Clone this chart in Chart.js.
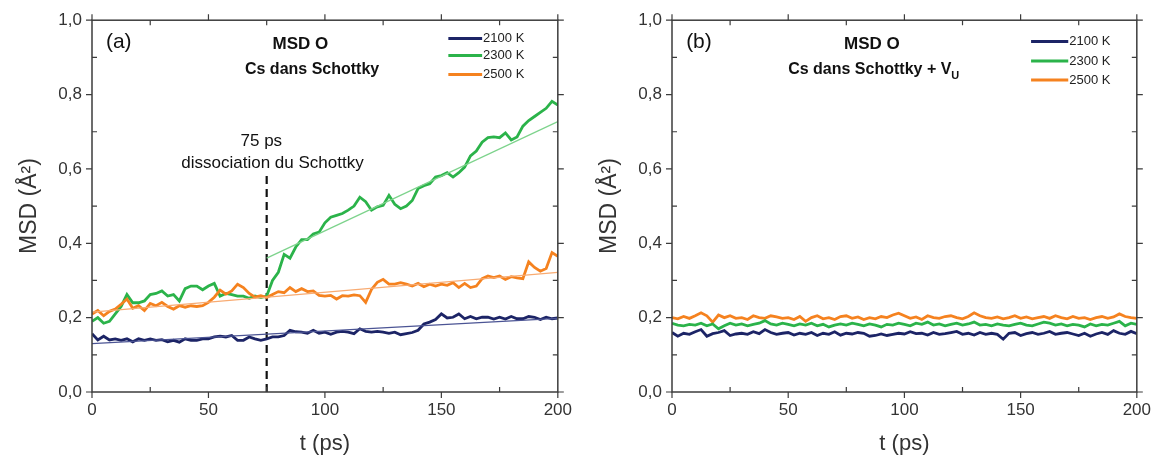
<!DOCTYPE html>
<html>
<head>
<meta charset="utf-8">
<script src="https://cdn.jsdelivr.net/npm/chart.js@4.4.0/dist/chart.umd.min.js"></script>
<style>
  html, body { margin: 0; padding: 0; background: #fff; }
  #wrap { display: flex; width: 1159px; height: 461px; }
  canvas { display: block; }
</style>
</head>
<body>
<div id="wrap">
  <canvas id="chartA" width="580" height="461"></canvas>
  <canvas id="chartB" width="579" height="461"></canvas>
</div>
<script>
// time axis (ps)
const times = [0,2.5,5,7.5,10,12.5,15,17.5,20,22.5,25,27.5,30,32.5,35,37.5,40,42.5,45,47.5,
  50,52.5,55,57.5,60,62.5,65,67.5,70,72.5,75,77.5,80,82.5,85,87.5,90,92.5,95,97.5,
  100,102.5,105,107.5,110,112.5,115,117.5,120,122.5,125,127.5,130,132.5,135,137.5,140,142.5,145,147.5,
  150,152.5,155,157.5,160,162.5,165,167.5,170,172.5,175,177.5,180,182.5,185,187.5,190,192.5,195,197.5,200];

// (a) Cs dans Schottky
const msdA2100 = [0.157,0.14,0.15,0.14,0.143,0.139,0.143,0.135,0.143,0.139,0.143,0.139,0.141,0.135,0.139,0.134,0.143,0.139,0.139,0.143,
  0.143,0.148,0.15,0.148,0.152,0.139,0.139,0.148,0.143,0.139,0.143,0.148,0.148,0.152,0.166,0.162,0.161,0.158,0.166,0.158,
  0.161,0.155,0.161,0.163,0.161,0.157,0.17,0.163,0.161,0.163,0.161,0.158,0.161,0.154,0.157,0.16,0.166,0.183,0.188,0.195,
  0.21,0.199,0.201,0.21,0.197,0.203,0.197,0.201,0.201,0.196,0.201,0.196,0.203,0.197,0.197,0.203,0.201,0.195,0.201,0.197,0.199];
const msdA2300 = [0.19,0.2,0.185,0.19,0.21,0.23,0.262,0.24,0.24,0.245,0.262,0.265,0.272,0.258,0.262,0.245,0.278,0.285,0.285,0.275,
  0.285,0.292,0.258,0.265,0.262,0.258,0.258,0.252,0.258,0.254,0.258,0.3,0.322,0.37,0.36,0.39,0.41,0.41,0.425,0.43,
  0.455,0.47,0.475,0.48,0.489,0.5,0.524,0.512,0.489,0.498,0.502,0.529,0.505,0.493,0.5,0.515,0.547,0.555,0.56,0.578,
  0.582,0.59,0.578,0.59,0.605,0.635,0.648,0.672,0.684,0.686,0.684,0.697,0.678,0.686,0.715,0.73,0.741,0.752,0.763,0.782,0.772];
const msdA2500 = [0.21,0.219,0.205,0.217,0.223,0.236,0.25,0.225,0.232,0.219,0.238,0.232,0.241,0.23,0.223,0.232,0.228,0.232,0.23,0.232,
  0.241,0.255,0.274,0.263,0.272,0.29,0.281,0.265,0.255,0.259,0.254,0.262,0.27,0.267,0.281,0.27,0.278,0.27,0.272,0.26,
  0.258,0.26,0.25,0.259,0.258,0.261,0.259,0.241,0.276,0.295,0.303,0.29,0.29,0.294,0.29,0.285,0.292,0.283,0.29,0.285,
  0.29,0.287,0.294,0.281,0.292,0.281,0.285,0.305,0.312,0.308,0.312,0.303,0.31,0.307,0.305,0.35,0.335,0.325,0.332,0.375,0.365];

// linear fits of panel (a)
const fitTimes = [0, 200];
const fitA2100 = [0.13, 0.198];
const fitA2500 = [0.215, 0.322];
const fitTimes2300 = [75, 200];
const fitA2300 = [0.36, 0.727];
const dissocTimes = [75, 75];
const dissocMsd = [0, 0.59];

// (b) Cs dans Schottky + V_U
const msdB2100 = [0.16,0.15,0.158,0.155,0.162,0.168,0.15,0.157,0.16,0.165,0.152,0.156,0.158,0.155,0.162,0.157,0.168,0.16,0.155,0.158,
  0.16,0.153,0.158,0.155,0.16,0.152,0.158,0.155,0.162,0.153,0.158,0.156,0.16,0.158,0.15,0.152,0.156,0.152,0.155,0.158,
  0.156,0.162,0.157,0.158,0.153,0.16,0.155,0.157,0.16,0.163,0.155,0.158,0.153,0.16,0.155,0.158,0.155,0.142,0.158,0.16,
  0.152,0.157,0.16,0.155,0.158,0.163,0.155,0.158,0.16,0.156,0.152,0.158,0.15,0.156,0.16,0.155,0.165,0.158,0.155,0.163,0.157];
const msdB2300 = [0.185,0.18,0.178,0.182,0.18,0.185,0.178,0.183,0.17,0.178,0.185,0.18,0.183,0.178,0.182,0.185,0.192,0.183,0.18,0.185,
  0.182,0.178,0.183,0.18,0.185,0.178,0.182,0.175,0.18,0.183,0.18,0.185,0.182,0.178,0.183,0.18,0.175,0.182,0.18,0.185,
  0.182,0.178,0.185,0.182,0.188,0.18,0.183,0.178,0.182,0.185,0.18,0.183,0.188,0.18,0.182,0.178,0.183,0.18,0.178,0.182,
  0.185,0.18,0.178,0.183,0.188,0.185,0.18,0.183,0.178,0.182,0.18,0.175,0.183,0.178,0.182,0.18,0.185,0.19,0.178,0.185,0.182];
const msdB2500 = [0.2,0.197,0.203,0.198,0.205,0.213,0.205,0.188,0.207,0.2,0.205,0.198,0.2,0.195,0.205,0.2,0.198,0.205,0.202,0.198,
  0.2,0.195,0.203,0.19,0.2,0.205,0.197,0.2,0.195,0.203,0.205,0.198,0.202,0.195,0.2,0.197,0.203,0.2,0.207,0.212,
  0.205,0.198,0.202,0.195,0.205,0.2,0.198,0.203,0.205,0.2,0.197,0.203,0.213,0.205,0.2,0.198,0.202,0.197,0.2,0.205,
  0.198,0.202,0.197,0.2,0.203,0.198,0.205,0.2,0.197,0.203,0.198,0.2,0.195,0.2,0.203,0.198,0.202,0.21,0.203,0.2,0.198];

const seriesLabels = ['2100 K', '2300 K', '2500 K'];
const seriesColors = ['#1c2466', '#2bb34a', '#f5821f'];
const fitColors = ['#4b5494', '#7dd38c', '#f8ab72'];

const FONT = "'Liberation Sans', Arial, sans-serif";

function pts(xs, ys) {
  return xs.map((x, i) => ({ x: x, y: ys[i] }));
}

function lineSet(label, xs, ys, color, width, extra) {
  return Object.assign({
    label: label,
    data: pts(xs, ys),
    borderColor: color,
    backgroundColor: color,
    borderWidth: width,
    pointRadius: 0,
    tension: 0,
    fill: false
  }, extra || {});
}

// frame, ticks, legend and in-plot text
const decorPlugin = {
  id: 'decor',
  afterDatasetsDraw(chart, args, opts) {
    const { ctx, chartArea: a, scales: { x, y } } = chart;
    ctx.save();
    ctx.strokeStyle = '#3c3c3c';
    ctx.lineWidth = 1.5;
    ctx.strokeRect(a.left, a.top, a.right - a.left, a.bottom - a.top);

    ctx.lineWidth = 1.2;
    ctx.beginPath();
    for (let t = 0; t <= 200; t += 25) {
      const px = x.getPixelForValue(t);
      const major = t % 50 === 0;
      if (major) {
        ctx.moveTo(px, a.bottom); ctx.lineTo(px, a.bottom + 6);
        ctx.moveTo(px, a.top); ctx.lineTo(px, a.top - 6);
      } else {
        ctx.moveTo(px, a.bottom); ctx.lineTo(px, a.bottom - 5);
        ctx.moveTo(px, a.top); ctx.lineTo(px, a.top + 5);
      }
    }
    for (let k = 0; k <= 10; k++) {
      const py = y.getPixelForValue(k / 10);
      if (k % 2 === 0) {
        ctx.moveTo(a.left, py); ctx.lineTo(a.left - 6, py);
        ctx.moveTo(a.right, py); ctx.lineTo(a.right + 6, py);
      } else {
        ctx.moveTo(a.left, py); ctx.lineTo(a.left + 5, py);
        ctx.moveTo(a.right, py); ctx.lineTo(a.right - 5, py);
      }
    }
    ctx.stroke();

    // legend
    const lg = opts.legend;
    ctx.textBaseline = 'middle';
    ctx.textAlign = 'left';
    ctx.font = '13px ' + FONT;
    seriesLabels.forEach((lab, i) => {
      const py = y.getPixelForValue(lg.v[i]);
      ctx.strokeStyle = seriesColors[i];
      ctx.lineWidth = 3;
      ctx.beginPath();
      ctx.moveTo(x.getPixelForValue(lg.t0), py);
      ctx.lineTo(x.getPixelForValue(lg.t1), py);
      ctx.stroke();
      ctx.fillStyle = '#222';
      ctx.fillText(lab, x.getPixelForValue(lg.t1) + 1, py);
    });

    // texts
    opts.texts.forEach(tx => {
      ctx.font = tx.font + ' ' + FONT;
      ctx.fillStyle = '#111';
      ctx.textAlign = 'center';
      const cx = x.getPixelForValue(tx.t);
      const cy = y.getPixelForValue(tx.v);
      if (tx.sub) {
        const w1 = ctx.measureText(tx.text).width;
        ctx.font = tx.subFont + ' ' + FONT;
        const w2 = ctx.measureText(tx.sub).width;
        const start = cx - (w1 + w2) / 2;
        ctx.textAlign = 'left';
        ctx.font = tx.font + ' ' + FONT;
        ctx.fillText(tx.text, start, cy);
        ctx.font = tx.subFont + ' ' + FONT;
        ctx.fillText(tx.sub, start + w1, cy + 6);
      } else {
        ctx.fillText(tx.text, cx, cy);
      }
    });
    ctx.restore();
  }
};

function axisOptions() {
  return {
    x: {
      type: 'linear', min: 0, max: 200,
      grid: { display: false, drawTicks: false },
      border: { display: false },
      ticks: { stepSize: 50, color: '#333', font: { size: 17, family: FONT }, padding: 8 },
      title: { display: true, text: 't (ps)', color: '#333', font: { size: 22, family: FONT }, padding: { top: 2, bottom: 4 } },
      afterFit: s => { s.height = 69; }
    },
    y: {
      min: 0, max: 1,
      grid: { display: false, drawTicks: false },
      border: { display: false },
      ticks: { stepSize: 0.2, color: '#333', font: { size: 17, family: FONT }, padding: 10,
        callback: v => v.toFixed(1).replace('.', ',') },
      title: { display: true, text: 'MSD (Å²)', color: '#333', font: { size: 23, family: FONT }, padding: { top: 16, bottom: 4 } },
      afterFit: s => { s.width = 92; }
    }
  };
}

function baseOptions(decor) {
  return {
    responsive: false,
    animation: false,
    devicePixelRatio: 1,
    layout: { padding: { top: 16, right: 20, left: 0, bottom: 0 } },
    plugins: { legend: { display: false }, tooltip: { enabled: false }, decor: decor },
    scales: axisOptions()
  };
}

new Chart(document.getElementById('chartA'), {
  type: 'line',
  data: {
    datasets: [
      lineSet('fit 2100 K', fitTimes, fitA2100, fitColors[0], 1.3),
      lineSet('fit 2500 K', fitTimes, fitA2500, fitColors[2], 1.3),
      lineSet('fit 2300 K', fitTimes2300, fitA2300, fitColors[1], 1.3),
      lineSet(seriesLabels[0], times, msdA2100, seriesColors[0], 2.8),
      lineSet(seriesLabels[2], times, msdA2500, seriesColors[2], 2.8),
      lineSet(seriesLabels[1], times, msdA2300, seriesColors[1], 2.8),
      lineSet('75 ps', dissocTimes, dissocMsd, '#111', 2.2, { borderDash: [8, 5] })
    ]
  },
  options: baseOptions({
    legend: { t0: 153, t1: 167.5, v: [0.951, 0.905, 0.854] },
    texts: [
      { t: 11.5, v: 0.94, text: '(a)', font: '21px' },
      { t: 89.5, v: 0.936, text: 'MSD O', font: 'bold 17px' },
      { t: 94.5, v: 0.866, text: 'Cs dans Schottky', font: 'bold 16px' },
      { t: 72.7, v: 0.675, text: '75 ps', font: '17px' },
      { t: 77.5, v: 0.615, text: 'dissociation du Schottky', font: '17px' }
    ]
  }),
  plugins: [decorPlugin]
});

new Chart(document.getElementById('chartB'), {
  type: 'line',
  data: {
    datasets: [
      lineSet(seriesLabels[0], times, msdB2100, seriesColors[0], 2.8),
      lineSet(seriesLabels[1], times, msdB2300, seriesColors[1], 2.8),
      lineSet(seriesLabels[2], times, msdB2500, seriesColors[2], 2.8)
    ]
  },
  options: baseOptions({
    legend: { t0: 154.5, t1: 170.5, v: [0.943, 0.89, 0.839] },
    texts: [
      { t: 11.6, v: 0.94, text: '(b)', font: '21px' },
      { t: 86, v: 0.936, text: 'MSD O', font: 'bold 17px' },
      { t: 86.8, v: 0.866, text: 'Cs dans Schottky + V', sub: 'U', font: 'bold 16px', subFont: 'bold 11px' }
    ]
  }),
  plugins: [decorPlugin]
});
</script>
</body>
</html>
